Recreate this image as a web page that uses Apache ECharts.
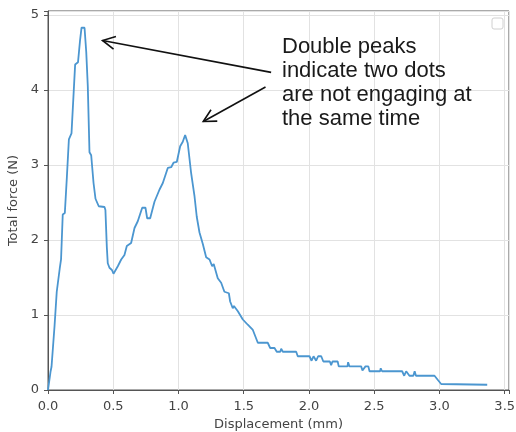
<!DOCTYPE html>
<html>
<head>
<meta charset="utf-8">
<script src="https://cdn.jsdelivr.net/npm/echarts@6/dist/echarts.min.js"></script>
<style>html,body{margin:0;padding:0;background:#fff}#chart{width:516px;height:432px}</style>
</head>
<body>
<div id="chart"></div>
<script>
var displacement = [0, 0.02, 0.027, 0.033, 0.05, 0.067, 0.075, 0.09, 0.10, 0.113, 0.129, 0.145, 0.16, 0.18, 0.208, 0.23, 0.245, 0.257, 0.28, 0.293, 0.305, 0.318, 0.331, 0.349, 0.364, 0.389, 0.433, 0.44, 0.451, 0.458, 0.471, 0.49, 0.502, 0.535, 0.561, 0.586, 0.604, 0.637, 0.663, 0.688, 0.722, 0.747, 0.760, 0.783, 0.816, 0.854, 0.88, 0.918, 0.944, 0.962, 0.987, 1.013, 1.033, 1.051, 1.071, 1.097, 1.123, 1.14, 1.161, 1.186, 1.212, 1.238, 1.258, 1.27, 1.301, 1.327, 1.352, 1.386, 1.396, 1.416, 1.425, 1.434, 1.455, 1.493, 1.531, 1.57, 1.608, 1.684, 1.703, 1.736, 1.753, 1.78, 1.787, 1.80, 1.902, 1.914, 2.004, 2.02, 2.035, 2.045, 2.055, 2.07, 2.094, 2.11, 2.16, 2.17, 2.18, 2.22, 2.228, 2.295, 2.30, 2.31, 2.40, 2.41, 2.433, 2.455, 2.464, 2.545, 2.55, 2.56, 2.714, 2.73, 2.745, 2.76, 2.77, 2.80, 2.81, 2.82, 2.962, 2.985, 3.013, 3.366];
var force = [0, 0.25, 0.31, 0.32, 0.85, 1.31, 1.32, 1.62, 1.74, 2.34, 2.36, 2.85, 3.34, 3.42, 4.34, 4.37, 4.65, 4.83, 4.83, 4.51, 4.05, 3.17, 3.13, 2.76, 2.55, 2.45, 2.44, 2.40, 1.90, 1.69, 1.63, 1.60, 1.55, 1.65, 1.74, 1.80, 1.92, 1.96, 2.16, 2.25, 2.43, 2.43, 2.29, 2.29, 2.51, 2.67, 2.76, 2.96, 2.97, 3.03, 3.04, 3.25, 3.31, 3.40, 3.29, 2.89, 2.58, 2.31, 2.10, 1.95, 1.77, 1.74, 1.65, 1.68, 1.49, 1.43, 1.31, 1.29, 1.18, 1.09, 1.12, 1.10, 1.05, 0.94, 0.87, 0.80, 0.63, 0.63, 0.56, 0.56, 0.51, 0.51, 0.55, 0.51, 0.51, 0.45, 0.45, 0.39, 0.45, 0.45, 0.39, 0.45, 0.45, 0.38, 0.38, 0.33, 0.38, 0.38, 0.315, 0.315, 0.37, 0.315, 0.315, 0.26, 0.315, 0.315, 0.25, 0.25, 0.29, 0.25, 0.25, 0.19, 0.25, 0.25, 0.19, 0.19, 0.25, 0.19, 0.19, 0.14, 0.08, 0.07];

var noteLines = ['Double peaks', 'indicate two dots', 'are not engaging at', 'the same time'];
// arrows in data units: [tail, tip]
var arrows = [
  [[1.71, 4.235], [0.418, 4.66]],
  [[1.667, 4.04], [1.19, 3.58]]
];

var points = displacement.map(function (x, i) { return [x, force[i]]; });

var tickFont = {color: '#444', fontFamily: 'DejaVu Sans', fontSize: 13};

var option = {
  animation: false,
  grid: {left: 48, top: 11, width: 461, height: 379, outerBoundsMode: 'none',
    show: true, borderColor: '#555', borderWidth: 1},
  xAxis: {
    type: 'value', min: 0, max: 3.533, interval: 0.5,
    name: 'Displacement (mm)', nameLocation: 'middle', nameGap: 24,
    nameTextStyle: Object.assign({verticalAlign: 'top'}, tickFont),
    axisLine: {lineStyle: {color: '#555'}},
    axisTick: {show: true, length: 4, lineStyle: {color: '#555'}},
    axisLabel: Object.assign({margin: 10, formatter: function (v) {
      return Math.abs(v * 2 - Math.round(v * 2)) < 1e-6 ? v.toFixed(1) : '';
    }}, tickFont),
    splitLine: {show: true, lineStyle: {color: '#e2e2e2'}}
  },
  yAxis: {
    type: 'value', min: 0, max: 5.053, interval: 1,
    name: 'Total force (N)', nameLocation: 'middle', nameGap: 22,
    nameTextStyle: tickFont,
    axisLine: {show: true, lineStyle: {color: '#555'}},
    axisTick: {show: true, length: 4, lineStyle: {color: '#555'}},
    axisLabel: Object.assign({margin: 9, formatter: function (v) {
      return Math.abs(v - Math.round(v)) < 1e-6 ? String(Math.round(v)) : '';
    }}, tickFont),
    splitLine: {show: true, lineStyle: {color: '#e2e2e2'}}
  },
  series: [{
    type: 'line',
    data: points,
    showSymbol: false,
    lineStyle: {color: '#4b96d0', width: 1.8},
    itemStyle: {color: '#4b96d0'}
  }]
};

var chart = echarts.init(document.getElementById('chart'));
chart.setOption(option);

// annotation: text, arrows, empty legend box
var graphics = [{
  type: 'text', x: 282, y: 35,
  style: {text: noteLines.join('\n'), font: '22px "Liberation Sans", Arial', lineHeight: 24, fill: '#1a1a1a'}
}, {
  type: 'rect', shape: {x: 492, y: 18, width: 11, height: 11, r: 2},
  style: {fill: '#fff', stroke: '#d0d0d0', lineWidth: 1}
}];
arrows.forEach(function (a) {
  var tail = chart.convertToPixel({gridIndex: 0}, a[0]);
  var tip = chart.convertToPixel({gridIndex: 0}, a[1]);
  var ang = Math.atan2(tail[1] - tip[1], tail[0] - tip[0]);
  var len = 14, spread = 0.48;
  var p1 = [tip[0] + len * Math.cos(ang - spread), tip[1] + len * Math.sin(ang - spread)];
  var p2 = [tip[0] + len * Math.cos(ang + spread), tip[1] + len * Math.sin(ang + spread)];
  graphics.push({type: 'line', shape: {x1: tail[0], y1: tail[1], x2: tip[0], y2: tip[1]},
    style: {stroke: '#111', lineWidth: 1.6}});
  graphics.push({type: 'polyline', shape: {points: [p1, tip, p2]},
    style: {stroke: '#111', lineWidth: 1.6, fill: null}});
});
chart.setOption({graphic: graphics});
</script>
</body>
</html>
